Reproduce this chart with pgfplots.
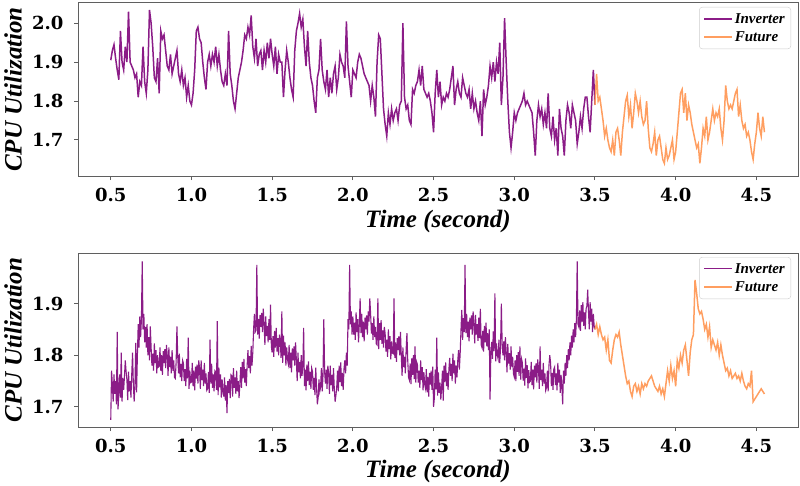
\documentclass[border=0pt]{standalone}
\usepackage{fontspec}
\setmainfont{Liberation Serif}
\newfontfamily\tickfont{DejaVu Serif}
\usepackage{pgfplots}
\pgfplotsset{compat=1.18}
\definecolor{inv}{RGB}{139,28,135}
\definecolor{fut}{RGB}{255,158,96}
\definecolor{frm}{RGB}{95,95,95}
\pgfplotsset{
 cpu/.style={
  scale only axis, width=720pt,
  xmin=0.297, xmax=4.758,
  xtick={0.5,1.0,1.5,2.0,2.5,3.0,3.5,4.0,4.5},
  tick pos=left, tick align=outside, major tick length=4pt,
  axis line style={frm, line width=1pt},
  every tick/.style={frm, line width=1pt},
  ticklabel style={font=\tickfont\bfseries\fontsize{18}{18}\selectfont},
  xticklabel style={yshift=-5pt},
  yticklabel style={xshift=-7pt},
  /pgf/number format/assume math mode=true,
  /pgf/number format/fixed, /pgf/number format/fixed zerofill, /pgf/number format/precision=1,
  legend cell align=left,
  legend style={at={(1,1)}, anchor=north east, xshift=-7pt, yshift=-4pt,
    font=\bfseries\itshape\fontsize{15}{17}\selectfont, draw=black!20, rounded corners=3pt,
    inner xsep=4pt, inner ysep=4pt, row sep=3pt},
  legend image code/.code={\draw[#1] (0pt,0pt) -- (28pt,0pt);},
 }
}
\begin{document}
\begin{tikzpicture}
\useasboundingbox (0,0) rectangle (800pt,-486pt);
% ---------------- top ----------------
\begin{axis}[cpu, at={(78pt,-3pt)}, anchor=north west, height=173pt,
  ymin=1.6075, ymax=2.052, ytick={1.7,1.8,1.9,2.0}]
\addplot[inv, line width=1.5pt] coordinates {
(0.50,1.905)(0.51,1.93)(0.52,1.945)(0.53,1.91)(0.54,1.88)(0.55,1.855)(0.56,1.98)(0.57,1.90)(0.58,1.88)(0.59,1.94)
(0.60,1.90)(0.61,2.03)(0.62,1.90)(0.63,1.89)(0.64,1.88)(0.65,1.86)(0.66,1.87)(0.67,1.81)(0.68,1.85)(0.69,1.84)
(0.70,1.94)(0.71,1.85)(0.72,1.82)(0.73,1.88)(0.74,2.034)(0.75,2.0)(0.76,1.94)(0.77,1.86)(0.78,1.85)(0.79,1.91)
(0.80,1.82)(0.81,1.98)(0.82,1.96)(0.83,1.97)(0.84,1.93)(0.85,1.89)(0.86,1.88)(0.87,1.92)(0.88,1.87)(0.89,1.89)
(0.90,1.91)(0.91,1.93)(0.92,1.87)(0.93,1.85)(0.94,1.88)(0.95,1.84)(0.96,1.86)(0.97,1.81)(0.98,1.84)(0.99,1.80)
(1.00,1.79)(1.01,1.82)(1.02,1.88)(1.03,1.98)(1.04,1.99)(1.05,1.96)(1.06,1.95)(1.07,1.90)(1.08,1.86)(1.09,1.83)
(1.10,1.90)(1.11,1.92)(1.12,1.89)(1.13,1.92)(1.14,1.90)(1.15,1.94)(1.16,1.89)(1.17,1.92)(1.18,1.88)(1.19,1.85)
(1.20,1.84)(1.21,1.87)(1.22,1.84)(1.23,1.98)(1.24,1.87)(1.25,1.84)(1.26,1.80)(1.27,1.78)(1.28,1.82)(1.29,1.86)
(1.30,1.88)(1.31,1.90)(1.32,1.93)(1.33,1.97)(1.34,1.96)(1.35,1.99)(1.36,1.97)(1.37,2.02)(1.38,1.94)(1.39,1.91)
(1.40,1.96)(1.41,1.89)(1.42,1.92)(1.43,1.93)(1.44,1.88)(1.45,1.93)(1.46,1.90)(1.47,1.95)(1.48,1.91)(1.49,1.96)
(1.50,1.92)(1.51,1.89)(1.52,1.94)(1.53,1.87)(1.54,1.92)(1.55,1.90)(1.56,1.90)(1.57,1.81)(1.58,1.88)(1.59,1.93)
(1.60,1.90)(1.61,1.86)(1.62,1.83)(1.63,1.81)(1.64,1.93)(1.65,1.98)(1.66,2.0)(1.67,2.025)(1.68,1.99)(1.69,2.01)
(1.70,1.94)(1.71,1.89)(1.72,1.98)(1.73,1.90)(1.74,1.86)(1.75,1.84)(1.76,1.80)(1.77,1.77)(1.78,1.86)(1.79,1.88)
(1.80,1.96)(1.81,1.88)(1.82,1.85)(1.83,1.83)(1.84,1.88)(1.85,1.81)(1.86,1.86)(1.87,1.82)(1.88,1.87)(1.89,1.89)
(1.90,1.83)(1.91,1.86)(1.92,1.92)(1.93,1.90)(1.94,1.89)(1.95,1.86)(1.96,2.005)(1.97,1.89)(1.98,1.85)(1.99,1.81)
(2.00,1.88)(2.01,1.87)(2.02,1.86)(2.03,1.90)(2.04,1.92)(2.05,1.91)(2.06,1.89)(2.07,1.87)(2.08,1.86)(2.09,1.85)
(2.10,1.84)(2.11,1.80)(2.12,1.84)(2.13,1.81)(2.14,1.76)(2.15,1.90)(2.16,1.97)(2.17,1.96)(2.18,1.87)(2.19,1.78)
(2.20,1.74)(2.21,1.71)(2.22,1.77)(2.23,1.74)(2.24,1.78)(2.25,1.75)(2.26,1.77)(2.27,1.78)(2.28,1.75)(2.29,1.79)
(2.30,1.80)(2.31,2.0)(2.32,1.81)(2.33,1.78)(2.34,1.79)(2.35,1.75)(2.36,1.74)(2.37,1.83)(2.38,1.82)(2.39,1.84)
(2.40,1.85)(2.41,1.88)(2.42,1.84)(2.43,1.89)(2.44,1.83)(2.45,1.82)(2.46,1.81)(2.47,1.82)(2.48,1.80)(2.49,1.77)
(2.50,1.72)(2.51,1.82)(2.52,1.88)(2.53,1.81)(2.54,1.85)(2.55,1.79)(2.56,1.81)(2.57,1.80)(2.58,1.82)(2.59,1.81)
(2.60,1.83)(2.61,1.86)(2.62,1.89)(2.63,1.79)(2.64,1.83)(2.65,1.85)(2.66,1.82)(2.67,1.81)(2.68,1.86)(2.69,1.84)
(2.70,1.82)(2.71,1.81)(2.72,1.83)(2.73,1.78)(2.74,1.82)(2.75,1.78)(2.76,1.80)(2.77,1.77)(2.78,1.75)(2.79,1.80)
(2.80,1.71)(2.81,1.83)(2.82,1.79)(2.83,1.81)(2.84,1.84)(2.85,1.89)(2.86,1.86)(2.87,1.90)(2.88,1.85)(2.89,1.90)
(2.90,1.87)(2.91,1.95)(2.92,1.79)(2.93,1.86)(2.94,2.013)(2.95,1.90)(2.96,1.80)(2.97,1.72)(2.98,1.68)(2.99,1.72)
(3.00,1.77)(3.01,1.75)(3.02,1.77)(3.03,1.78)(3.04,1.79)(3.05,1.80)(3.06,1.82)(3.07,1.79)(3.08,1.80)(3.09,1.79)
(3.10,1.78)(3.11,1.77)(3.12,1.72)(3.13,1.66)(3.14,1.75)(3.15,1.79)(3.16,1.76)(3.17,1.78)(3.18,1.74)(3.19,1.77)
(3.20,1.73)(3.21,1.82)(3.22,1.73)(3.23,1.71)(3.24,1.76)(3.25,1.70)(3.26,1.73)(3.27,1.66)(3.28,1.78)(3.29,1.73)
(3.30,1.71)(3.31,1.66)(3.32,1.75)(3.33,1.79)(3.34,1.77)(3.35,1.73)(3.36,1.79)(3.37,1.77)(3.38,1.75)(3.39,1.69)
(3.40,1.72)(3.41,1.76)(3.42,1.73)(3.43,1.78)(3.44,1.81)(3.45,1.81)(3.46,1.76)(3.47,1.72)(3.48,1.80)(3.49,1.88)
(3.50,1.79)};
\addlegendentry{Inverter}
\addplot[fut, line width=1.5pt] coordinates {
(3.50,1.79)(3.51,1.87)(3.52,1.80)(3.53,1.81)(3.54,1.78)(3.55,1.75)(3.56,1.71)(3.57,1.73)(3.58,1.70)(3.59,1.68)
(3.60,1.67)(3.61,1.70)(3.62,1.66)(3.63,1.72)(3.64,1.73)(3.65,1.70)(3.66,1.66)(3.67,1.72)(3.68,1.76)(3.69,1.80)
(3.70,1.815)(3.71,1.76)(3.72,1.79)(3.73,1.73)(3.74,1.77)(3.75,1.82)(3.76,1.80)(3.77,1.77)(3.78,1.80)(3.79,1.76)
(3.80,1.74)(3.81,1.75)(3.82,1.80)(3.83,1.73)(3.84,1.68)(3.85,1.67)(3.86,1.69)(3.87,1.72)(3.88,1.66)(3.89,1.70)
(3.90,1.71)(3.91,1.68)(3.92,1.65)(3.93,1.64)(3.94,1.68)(3.95,1.65)(3.96,1.66)(3.97,1.68)(3.98,1.70)(3.99,1.65)
(4.00,1.67)(4.01,1.72)(4.02,1.77)(4.03,1.82)(4.04,1.83)(4.05,1.77)(4.06,1.82)(4.07,1.75)(4.08,1.79)(4.09,1.77)
(4.10,1.74)(4.11,1.72)(4.12,1.70)(4.13,1.68)(4.14,1.69)(4.15,1.64)(4.16,1.68)(4.17,1.73)(4.18,1.71)(4.19,1.76)
(4.20,1.70)(4.21,1.72)(4.22,1.75)(4.23,1.78)(4.24,1.75)(4.25,1.77)(4.26,1.76)(4.27,1.78)(4.28,1.73)(4.29,1.70)
(4.30,1.75)(4.31,1.84)(4.32,1.80)(4.33,1.78)(4.34,1.79)(4.35,1.78)(4.36,1.80)(4.37,1.82)(4.38,1.83)(4.39,1.76)
(4.40,1.79)(4.41,1.75)(4.42,1.73)(4.43,1.74)(4.44,1.71)(4.45,1.72)(4.46,1.70)(4.47,1.67)(4.48,1.65)(4.49,1.69)
(4.50,1.72)(4.51,1.77)(4.52,1.73)(4.53,1.71)(4.54,1.76)(4.55,1.72)};
\addlegendentry{Future}
\end{axis}
% ---------------- bottom ----------------
\begin{axis}[cpu, at={(78pt,-253pt)}, anchor=north west, height=174pt,
  ymin=1.661, ymax=1.998, ytick={1.7,1.8,1.9}]
\addplot[inv, line width=1.1pt] coordinates {
(0.500,1.675)(0.505,1.770)(0.510,1.743)(0.515,1.710)(0.520,1.763)(0.525,1.725)(0.530,1.750)(0.535,1.705)(0.540,1.845)(0.545,1.695)
(0.550,1.726)(0.555,1.763)(0.560,1.718)(0.565,1.805)(0.570,1.710)(0.575,1.756)(0.580,1.733)(0.585,1.760)(0.590,1.790)(0.595,1.768)
(0.600,1.753)(0.605,1.713)(0.610,1.768)(0.615,1.730)(0.620,1.750)(0.625,1.718)(0.630,1.763)(0.635,1.805)(0.640,1.743)(0.645,1.710)
(0.650,1.745)(0.655,1.824)(0.660,1.728)(0.665,1.800)(0.670,1.860)(0.675,1.815)(0.680,1.875)(0.685,1.835)(0.690,1.870)(0.695,1.982)
(0.700,1.850)(0.705,1.880)(0.710,1.825)(0.715,1.855)(0.720,1.815)(0.725,1.860)(0.730,1.800)(0.735,1.835)(0.740,1.790)(0.745,1.856)
(0.750,1.815)(0.755,1.780)(0.760,1.803)(0.765,1.770)(0.770,1.823)(0.775,1.785)(0.780,1.810)(0.785,1.765)(0.790,1.800)(0.795,1.777)
(0.800,1.778)(0.805,1.815)(0.810,1.770)(0.815,1.800)(0.820,1.762)(0.825,1.808)(0.830,1.785)(0.835,1.812)(0.840,1.775)(0.845,1.820)
(0.850,1.800)(0.855,1.760)(0.860,1.815)(0.865,1.777)(0.870,1.797)(0.875,1.765)(0.880,1.810)(0.885,1.770)(0.890,1.790)(0.895,1.757)
(0.900,1.755)(0.905,1.787)(0.910,1.856)(0.915,1.797)(0.920,1.765)(0.925,1.803)(0.930,1.757)(0.935,1.783)(0.940,1.750)(0.945,1.790)
(0.950,1.785)(0.955,1.750)(0.960,1.773)(0.965,1.740)(0.970,1.793)(0.975,1.755)(0.980,1.834)(0.985,1.735)(0.990,1.770)(0.995,1.747)
(1.000,1.748)(1.005,1.785)(1.010,1.740)(1.015,1.770)(1.020,1.732)(1.025,1.778)(1.030,1.755)(1.035,1.782)(1.040,1.745)(1.045,1.790)
(1.050,1.775)(1.055,1.735)(1.060,1.790)(1.065,1.752)(1.070,1.772)(1.075,1.740)(1.080,1.785)(1.085,1.745)(1.090,1.765)(1.095,1.732)
(1.100,1.735)(1.105,1.767)(1.110,1.727)(1.115,1.830)(1.120,1.745)(1.125,1.783)(1.130,1.737)(1.135,1.763)(1.140,1.730)(1.145,1.770)
(1.150,1.768)(1.155,1.733)(1.160,1.866)(1.165,1.723)(1.170,1.776)(1.175,1.738)(1.180,1.763)(1.185,1.718)(1.190,1.753)(1.195,1.730)
(1.200,1.720)(1.205,1.757)(1.210,1.712)(1.215,1.742)(1.220,1.688)(1.225,1.750)(1.230,1.727)(1.235,1.754)(1.240,1.717)(1.245,1.762)
(1.250,1.760)(1.255,1.720)(1.260,1.775)(1.265,1.737)(1.270,1.757)(1.275,1.725)(1.280,1.770)(1.285,1.730)(1.290,1.750)(1.295,1.717)
(1.300,1.745)(1.305,1.777)(1.310,1.737)(1.315,1.787)(1.320,1.755)(1.325,1.793)(1.330,1.747)(1.335,1.773)(1.340,1.740)(1.345,1.780)
(1.350,1.810)(1.355,1.775)(1.360,1.798)(1.365,1.765)(1.370,1.818)(1.375,1.780)(1.380,1.805)(1.385,1.850)(1.390,1.880)(1.395,1.845)
(1.400,1.848)(1.405,1.975)(1.410,1.840)(1.415,1.870)(1.420,1.832)(1.425,1.878)(1.430,1.855)(1.435,1.882)(1.440,1.845)(1.445,1.890)
(1.450,1.860)(1.455,1.820)(1.460,1.875)(1.465,1.837)(1.470,1.857)(1.475,1.825)(1.480,1.870)(1.485,1.830)(1.490,1.898)(1.495,1.817)
(1.500,1.805)(1.505,1.837)(1.510,1.797)(1.515,1.847)(1.520,1.815)(1.525,1.853)(1.530,1.807)(1.535,1.833)(1.540,1.800)(1.545,1.840)
(1.550,1.830)(1.555,1.795)(1.560,1.885)(1.565,1.785)(1.570,1.838)(1.575,1.800)(1.580,1.825)(1.585,1.780)(1.590,1.815)(1.595,1.792)
(1.600,1.783)(1.605,1.820)(1.610,1.775)(1.615,1.805)(1.620,1.767)(1.625,1.813)(1.630,1.790)(1.635,1.817)(1.640,1.780)(1.645,1.825)
(1.650,1.790)(1.655,1.750)(1.660,1.805)(1.665,1.767)(1.670,1.787)(1.675,1.755)(1.680,1.800)(1.685,1.760)(1.690,1.780)(1.695,1.853)
(1.700,1.740)(1.705,1.772)(1.710,1.732)(1.715,1.782)(1.720,1.750)(1.725,1.788)(1.730,1.742)(1.735,1.768)(1.740,1.735)(1.745,1.775)
(1.750,1.768)(1.755,1.733)(1.760,1.756)(1.765,1.723)(1.770,1.776)(1.775,1.738)(1.780,1.705)(1.785,1.718)(1.790,1.753)(1.795,1.730)
(1.800,1.738)(1.805,1.775)(1.810,1.730)(1.815,1.760)(1.820,1.870)(1.825,1.768)(1.830,1.745)(1.835,1.772)(1.840,1.735)(1.845,1.780)
(1.850,1.765)(1.855,1.725)(1.860,1.780)(1.865,1.742)(1.870,1.762)(1.875,1.730)(1.880,1.775)(1.885,1.735)(1.890,1.710)(1.895,1.722)
(1.900,1.738)(1.905,1.770)(1.910,1.730)(1.915,1.780)(1.920,1.748)(1.925,1.786)(1.930,1.740)(1.935,1.766)(1.940,1.733)(1.945,1.773)
(1.950,1.790)(1.955,1.765)(1.960,1.805)(1.965,1.780)(1.970,1.870)(1.975,1.850)(1.980,1.975)(1.985,1.860)(1.990,1.885)(1.995,1.840)
(2.000,1.875)(2.005,1.840)(2.010,1.863)(2.015,1.830)(2.020,1.883)(2.025,1.845)(2.030,1.870)(2.035,1.825)(2.040,1.860)(2.045,1.910)
(2.050,1.843)(2.055,1.880)(2.060,1.835)(2.065,1.865)(2.070,1.827)(2.075,1.873)(2.080,1.850)(2.085,1.877)(2.090,1.840)(2.095,1.885)
(2.100,1.865)(2.105,1.910)(2.110,1.880)(2.115,1.842)(2.120,1.862)(2.125,1.830)(2.130,1.875)(2.135,1.835)(2.140,1.855)(2.145,1.822)
(2.150,1.820)(2.155,1.910)(2.160,1.812)(2.165,1.862)(2.170,1.830)(2.175,1.868)(2.180,1.822)(2.185,1.848)(2.190,1.815)(2.195,1.855)
(2.200,1.842)(2.205,1.807)(2.210,1.830)(2.215,1.797)(2.220,1.850)(2.225,1.812)(2.230,1.837)(2.235,1.792)(2.240,1.827)(2.245,1.804)
(2.250,1.803)(2.255,1.910)(2.260,1.795)(2.265,1.825)(2.270,1.787)(2.275,1.833)(2.280,1.810)(2.285,1.837)(2.290,1.800)(2.295,1.845)
(2.300,1.800)(2.305,1.760)(2.310,1.815)(2.315,1.777)(2.320,1.797)(2.325,1.765)(2.330,1.810)(2.335,1.843)(2.340,1.790)(2.345,1.757)
(2.350,1.752)(2.355,1.784)(2.360,1.744)(2.365,1.794)(2.370,1.762)(2.375,1.800)(2.380,1.754)(2.385,1.817)(2.390,1.747)(2.395,1.787)
(2.400,1.782)(2.405,1.747)(2.410,1.770)(2.415,1.737)(2.420,1.790)(2.425,1.752)(2.430,1.777)(2.435,1.732)(2.440,1.767)(2.445,1.744)
(2.450,1.736)(2.455,1.773)(2.460,1.728)(2.465,1.758)(2.470,1.720)(2.475,1.766)(2.480,1.743)(2.485,1.770)(2.490,1.733)(2.495,1.778)
(2.500,1.700)(2.505,1.717)(2.510,1.772)(2.515,1.734)(2.520,1.834)(2.525,1.722)(2.530,1.767)(2.535,1.727)(2.540,1.747)(2.545,1.714)
(2.550,1.738)(2.555,1.770)(2.560,1.712)(2.565,1.780)(2.570,1.748)(2.575,1.786)(2.580,1.740)(2.585,1.766)(2.590,1.733)(2.595,1.773)
(2.600,1.795)(2.605,1.760)(2.610,1.783)(2.615,1.750)(2.620,1.803)(2.625,1.765)(2.630,1.790)(2.635,1.745)(2.640,1.780)(2.645,1.757)
(2.650,1.790)(2.655,1.810)(2.660,1.772)(2.665,1.805)(2.670,1.850)(2.675,1.888)(2.680,1.830)(2.685,1.872)(2.690,1.845)(2.695,1.975)
(2.700,1.843)(2.705,1.880)(2.710,1.835)(2.715,1.865)(2.720,1.827)(2.725,1.873)(2.730,1.850)(2.735,1.877)(2.740,1.840)(2.745,1.885)
(2.750,1.863)(2.755,1.823)(2.760,1.878)(2.765,1.840)(2.770,1.860)(2.775,1.828)(2.780,1.873)(2.785,1.833)(2.790,1.890)(2.795,1.820)
(2.800,1.815)(2.805,1.847)(2.810,1.807)(2.815,1.857)(2.820,1.825)(2.825,1.863)(2.830,1.817)(2.835,1.843)(2.840,1.810)(2.845,1.850)
(2.850,1.714)(2.855,1.803)(2.860,1.826)(2.865,1.793)(2.870,1.846)(2.875,1.808)(2.880,1.920)(2.885,1.788)(2.890,1.823)(2.895,1.800)
(2.900,1.793)(2.905,1.830)(2.910,1.785)(2.915,1.815)(2.920,1.900)(2.925,1.823)(2.930,1.800)(2.935,1.827)(2.940,1.790)(2.945,1.835)
(2.950,1.807)(2.955,1.767)(2.960,1.822)(2.965,1.784)(2.970,1.804)(2.975,1.772)(2.980,1.817)(2.985,1.777)(2.990,1.797)(2.995,1.764)
(3.000,1.758)(3.005,1.790)(3.010,1.750)(3.015,1.800)(3.020,1.768)(3.025,1.806)(3.030,1.760)(3.035,1.817)(3.040,1.753)(3.045,1.793)
(3.050,1.786)(3.055,1.751)(3.060,1.774)(3.065,1.741)(3.070,1.794)(3.075,1.756)(3.080,1.781)(3.085,1.736)(3.090,1.771)(3.095,1.748)
(3.100,1.750)(3.105,1.787)(3.110,1.742)(3.115,1.772)(3.120,1.734)(3.125,1.780)(3.130,1.757)(3.135,1.784)(3.140,1.747)(3.145,1.792)
(3.150,1.775)(3.155,1.735)(3.160,1.817)(3.165,1.752)(3.170,1.772)(3.175,1.740)(3.180,1.785)(3.185,1.745)(3.190,1.765)(3.195,1.732)
(3.200,1.738)(3.205,1.770)(3.210,1.730)(3.215,1.780)(3.220,1.800)(3.225,1.786)(3.230,1.740)(3.235,1.766)(3.240,1.733)(3.245,1.773)
(3.250,1.777)(3.255,1.742)(3.260,1.765)(3.265,1.732)(3.270,1.785)(3.275,1.747)(3.280,1.772)(3.285,1.727)(3.290,1.762)(3.295,1.739)
(3.300,1.705)(3.305,1.770)(3.310,1.745)(3.315,1.785)(3.320,1.760)(3.325,1.800)(3.330,1.775)(3.335,1.812)(3.340,1.790)(3.345,1.825)
(3.350,1.800)(3.355,1.838)(3.360,1.815)(3.365,1.850)(3.370,1.825)(3.375,1.862)(3.380,1.835)(3.385,1.870)(3.390,1.982)(3.395,1.860)
(3.400,1.855)(3.405,1.887)(3.410,1.847)(3.415,1.897)(3.420,1.865)(3.425,1.903)(3.430,1.857)(3.435,1.883)(3.440,1.850)(3.445,1.890)
(3.450,1.895)(3.455,1.927)(3.460,1.883)(3.465,1.850)(3.470,1.903)(3.475,1.865)(3.480,1.890)(3.485,1.845)(3.490,1.880)(3.495,1.857)
(3.500,1.850)};
\addlegendentry{Inverter}
\addplot[fut, line width=1.5pt] coordinates {
(3.50,1.85)(3.51,1.86)(3.52,1.84)(3.53,1.855)(3.54,1.84)(3.55,1.83)(3.56,1.835)(3.57,1.81)(3.58,1.83)(3.59,1.79)
(3.60,1.785)(3.61,1.81)(3.62,1.83)(3.63,1.84)(3.64,1.835)(3.65,1.845)(3.66,1.82)(3.67,1.80)(3.68,1.78)(3.69,1.76)
(3.70,1.745)(3.71,1.75)(3.72,1.73)(3.73,1.72)(3.74,1.74)(3.75,1.745)(3.76,1.73)(3.77,1.74)(3.78,1.725)(3.79,1.745)
(3.80,1.735)(3.81,1.745)(3.82,1.74)(3.83,1.75)(3.84,1.755)(3.85,1.76)(3.86,1.75)(3.87,1.74)(3.88,1.735)(3.89,1.73)
(3.90,1.74)(3.91,1.725)(3.92,1.735)(3.93,1.72)(3.94,1.745)(3.95,1.77)(3.96,1.75)(3.97,1.78)(3.98,1.755)(3.99,1.77)
(4.00,1.74)(4.01,1.79)(4.02,1.775)(4.03,1.80)(4.04,1.785)(4.05,1.81)(4.06,1.82)(4.07,1.79)(4.08,1.76)(4.09,1.805)
(4.10,1.83)(4.11,1.84)(4.12,1.946)(4.13,1.92)(4.14,1.89)(4.15,1.88)(4.16,1.885)(4.17,1.87)(4.18,1.85)(4.19,1.86)
(4.20,1.835)(4.21,1.855)(4.22,1.815)(4.23,1.83)(4.24,1.82)(4.25,1.81)(4.26,1.825)(4.27,1.80)(4.28,1.82)(4.29,1.80)
(4.30,1.785)(4.31,1.77)(4.32,1.775)(4.33,1.76)(4.34,1.77)(4.35,1.755)(4.36,1.76)(4.37,1.765)(4.38,1.755)(4.39,1.76)
(4.40,1.75)(4.41,1.765)(4.42,1.75)(4.43,1.74)(4.44,1.735)(4.45,1.745)(4.46,1.74)(4.47,1.77)(4.48,1.71)(4.49,1.715)
(4.50,1.72)(4.51,1.725)(4.52,1.73)(4.53,1.735)(4.54,1.73)(4.55,1.725)};
\addlegendentry{Future}
\end{axis}
% ---------------- axis titles ----------------
\node[rotate=90, font=\bfseries\itshape\fontsize{25}{28}\selectfont] at (13pt,-89.5pt) {CPU Utilization};
\node[rotate=90, font=\bfseries\itshape\fontsize{25}{28}\selectfont] at (13pt,-340pt) {CPU Utilization};
\node[font=\bfseries\itshape\fontsize{25}{26}\selectfont, inner sep=0pt] at (438pt,-221pt) {Time (second)};
\node[font=\bfseries\itshape\fontsize{25}{26}\selectfont, inner sep=0pt] at (438pt,-471pt) {Time (second)};
\end{tikzpicture}
\end{document}
